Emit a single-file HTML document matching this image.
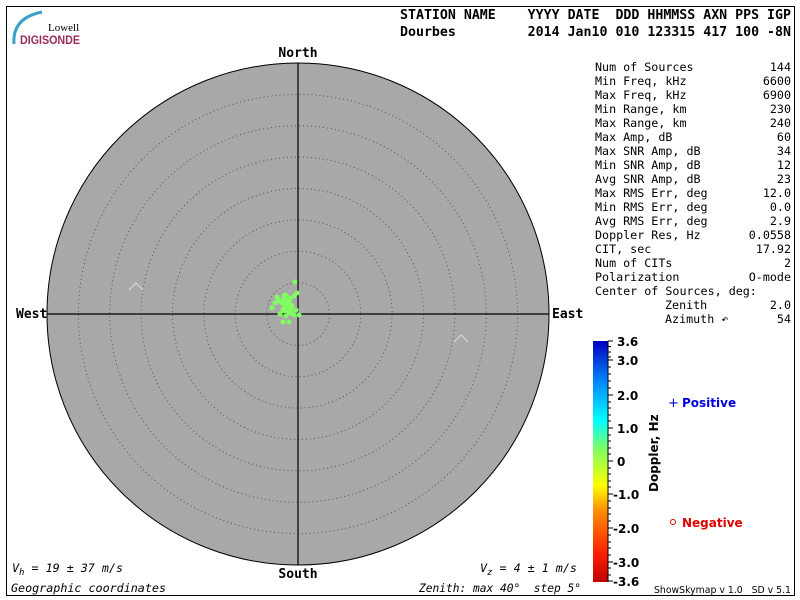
<!DOCTYPE html>
<html><head><meta charset="utf-8"><style>
body{margin:0;background:#fff;width:800px;height:600px;overflow:hidden}
svg{display:block}
.m{font-family:"DejaVu Sans Mono","Liberation Mono",monospace;font-size:11.7px;fill:#000}
.b{font-family:"DejaVu Sans Mono","Liberation Mono",monospace;font-size:13px;font-weight:bold;fill:#000}
.s{font-family:"DejaVu Sans","Liberation Sans",sans-serif;font-size:12px;font-weight:bold;fill:#000}
</style></head><body>
<svg width="800" height="600" viewBox="0 0 800 600">
<defs>
<linearGradient id="cb" x1="0" y1="1" x2="0" y2="0">
<stop offset="0" stop-color="#c00000"/>
<stop offset="0.12" stop-color="#ff2000"/>
<stop offset="0.3" stop-color="#ff9000"/>
<stop offset="0.4" stop-color="#ffff00"/>
<stop offset="0.55" stop-color="#80ff60"/>
<stop offset="0.67" stop-color="#00ffff"/>
<stop offset="0.82" stop-color="#0090ff"/>
<stop offset="1" stop-color="#0000c0"/>
</linearGradient>
</defs>
<rect x="6.5" y="6.5" width="788" height="589" fill="none" stroke="#000"/>
<!-- logo -->
<path d="M14 44 Q12 18 42 12" stroke="#3aa0c8" stroke-width="3" fill="none"/>
<text x="48" y="31" font-family="Liberation Serif,serif" font-size="11" fill="#000">Lowell</text>
<text x="20" y="44" font-family="Liberation Sans,sans-serif" font-size="12" font-weight="bold" fill="#9a2b5a" textLength="60" lengthAdjust="spacingAndGlyphs">DIGISONDE</text>
<!-- header -->
<text class="b" x="400" y="19" textLength="391" lengthAdjust="spacingAndGlyphs" xml:space="preserve">STATION NAME    YYYY DATE  DDD HHMMSS AXN PPS IGP</text>
<text class="b" x="400" y="36" textLength="391" lengthAdjust="spacingAndGlyphs" xml:space="preserve">Dourbes         2014 Jan10 010 123315 417 100 -8N</text>
<!-- plot -->
<circle cx="298" cy="314" r="251" fill="#a8a8a8" stroke="#000"/>
<g fill="none" stroke="#555" stroke-dasharray="1,3">
<circle cx="298" cy="314" r="31.4"/><circle cx="298" cy="314" r="62.8"/><circle cx="298" cy="314" r="94.1"/><circle cx="298" cy="314" r="125.5"/><circle cx="298" cy="314" r="156.9"/><circle cx="298" cy="314" r="188.3"/><circle cx="298" cy="314" r="219.6"/>
</g>
<line x1="47" y1="314" x2="549" y2="314" stroke="#000" stroke-width="1.2"/>
<line x1="298" y1="63" x2="298" y2="565" stroke="#000" stroke-width="1.2"/>
<path d="M129 290 L136 283 L143 290" stroke="#ddd" fill="none"/>
<path d="M454 342 L461 335 L468 342" stroke="#ddd" fill="none"/>
<g fill="#80ff60" stroke="#80ff60">
<circle cx="295" cy="282" r="2"/><circle cx="285" cy="296" r="3"/><circle cx="289" cy="299" r="3"/><circle cx="282" cy="302" r="3"/><circle cx="286" cy="304" r="4"/><circle cx="291" cy="306" r="3"/><circle cx="278" cy="300" r="2"/><circle cx="275" cy="303" r="2"/><circle cx="272" cy="308" r="2"/><circle cx="284" cy="310" r="3"/><circle cx="290" cy="312" r="3"/><circle cx="296" cy="310" r="2"/><circle cx="299" cy="315" r="2"/><circle cx="280" cy="314" r="2"/><circle cx="283" cy="322" r="2"/><circle cx="289" cy="322" r="2"/><circle cx="294" cy="296" r="2"/><circle cx="297" cy="293" r="2"/><circle cx="286" cy="316" r="2"/><circle cx="294" cy="315" r="2"/><circle cx="277" cy="297" r="2"/>
</g>
<text class="b" x="298" y="57" text-anchor="middle" font-size="12">North</text>
<text class="b" x="298" y="578" text-anchor="middle" font-size="12">South</text>
<text class="b" x="16" y="318" font-size="12">West</text>
<text class="b" x="552" y="318" font-size="12">East</text>
<text class="m" x="12" y="572" font-style="italic">V<tspan font-size="9" dy="3">h</tspan><tspan dy="-3" xml:space="preserve"> = 19 ± 37 m/s</tspan></text>
<text class="m" x="11" y="592" font-style="italic" textLength="155" lengthAdjust="spacingAndGlyphs">Geographic coordinates</text>
<text class="m" x="480" y="572" font-style="italic">V<tspan font-size="9" dy="3">z</tspan><tspan dy="-3" xml:space="preserve"> = 4 ± 1 m/s</tspan></text>
<text class="m" x="419" y="592" font-style="italic" xml:space="preserve" textLength="162" lengthAdjust="spacingAndGlyphs">Zenith: max 40°  step 5°</text>
<!-- stats -->
<g class="m">
<text x="595" y="71">Num of Sources</text><text x="791" y="71" text-anchor="end">144</text>
<text x="595" y="85">Min Freq, kHz</text><text x="791" y="85" text-anchor="end">6600</text>
<text x="595" y="99">Max Freq, kHz</text><text x="791" y="99" text-anchor="end">6900</text>
<text x="595" y="113">Min Range, km</text><text x="791" y="113" text-anchor="end">230</text>
<text x="595" y="127">Max Range, km</text><text x="791" y="127" text-anchor="end">240</text>
<text x="595" y="141">Max Amp, dB</text><text x="791" y="141" text-anchor="end">60</text>
<text x="595" y="155">Max SNR Amp, dB</text><text x="791" y="155" text-anchor="end">34</text>
<text x="595" y="169">Min SNR Amp, dB</text><text x="791" y="169" text-anchor="end">12</text>
<text x="595" y="183">Avg SNR Amp, dB</text><text x="791" y="183" text-anchor="end">23</text>
<text x="595" y="197">Max RMS Err, deg</text><text x="791" y="197" text-anchor="end">12.0</text>
<text x="595" y="211">Min RMS Err, deg</text><text x="791" y="211" text-anchor="end">0.0</text>
<text x="595" y="225">Avg RMS Err, deg</text><text x="791" y="225" text-anchor="end">2.9</text>
<text x="595" y="239">Doppler Res, Hz</text><text x="791" y="239" text-anchor="end">0.0558</text>
<text x="595" y="253">CIT, sec</text><text x="791" y="253" text-anchor="end">17.92</text>
<text x="595" y="267">Num of CITs</text><text x="791" y="267" text-anchor="end">2</text>
<text x="595" y="281">Polarization</text><text x="791" y="281" text-anchor="end">O-mode</text>
<text x="595" y="295">Center of Sources, deg:</text>
<text x="665" y="309">Zenith</text><text x="791" y="309" text-anchor="end">2.0</text>
<text x="665" y="323">Azimuth ↶</text><text x="791" y="323" text-anchor="end">54</text>
</g>
<!-- colorbar -->
<rect x="593" y="341" width="15" height="241" fill="url(#cb)"/>
<g stroke="#000">
<line x1="608" y1="341" x2="608" y2="582"/>
<path d="M608 341h5M608 360h5M608 395h5M608 428h5M608 461h5M608 494h5M608 528h5M608 562h5M608 581h5"/>
<path d="M608 346.5h3M608 352h3M608 357h3M608 367h3M608 374h3M608 381h3M608 388h3M608 402h3M608 408h3M608 415h3M608 421h3M608 435h3M608 441h3M608 448h3M608 454h3M608 468h3M608 474h3M608 481h3M608 487h3M608 501h3M608 508h3M608 514h3M608 521h3M608 535h3M608 542h3M608 548h3M608 555h3M608 568h3M608 575h3"/>
</g>
<g class="s">
<text x="617" y="346">3.6</text><text x="617" y="365">3.0</text><text x="617" y="400">2.0</text><text x="617" y="433">1.0</text><text x="617" y="466">0</text><text x="613" y="499">-1.0</text><text x="613" y="533">-2.0</text><text x="613" y="567">-3.0</text><text x="613" y="586">-3.6</text>
</g>
<text class="s" font-size="10" transform="translate(658,492) rotate(-90)">Doppler, Hz</text>
<text x="668" y="407" font-family="DejaVu Sans,sans-serif" font-size="13" fill="#0000e0">+</text>
<text class="s" x="682" y="407" font-size="11" style="fill:#0000e0">Positive</text>
<circle cx="673" cy="522" r="2.5" fill="none" stroke="#e00000"/>
<text class="s" x="682" y="527" font-size="11" style="fill:#e00000">Negative</text>
<text x="654" y="593" font-family="DejaVu Sans,sans-serif" font-size="10" xml:space="preserve" textLength="137" lengthAdjust="spacingAndGlyphs">ShowSkymap v 1.0   SD v 5.1</text>
</svg>
</body></html>
